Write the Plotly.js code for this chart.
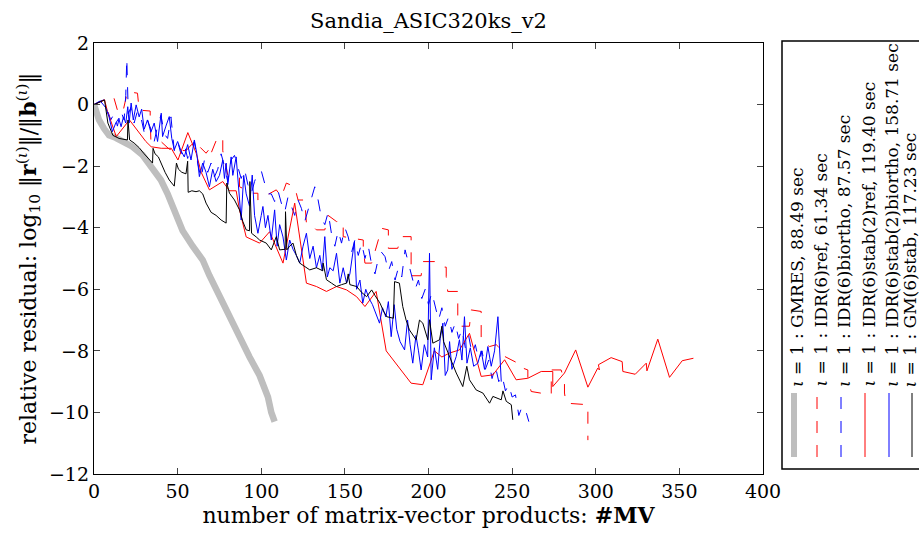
<!DOCTYPE html>
<html>
<head>
<meta charset="utf-8">
<script src="https://cdn.plot.ly/plotly-3.0.1.min.js"></script>
<style>html,body{margin:0;padding:0;background:#fff;}#chart{width:919px;height:537px;}</style>
</head>
<body>
<div id="chart"></div>
<script>
// ---- data ----
const gmresX = [0,3,6,9,13,17,23,29,34,40,44,48,53,59,65,69,73,77,81,87,93,99,104,106,108];
const gmresY = [0,-0.5,-0.78,-1.0,-1.08,-1.2,-1.37,-1.64,-2.0,-2.45,-2.9,-3.5,-4.1,-4.6,-5.05,-5.55,-6.0,-6.45,-6.9,-7.6,-8.2,-8.8,-9.5,-10.0,-10.3];

const idrRefX = [0,6,10,12,14,17,20,26,27,33.6,33.6,34,39,42,45,55,60,67,70,70,74,77,77,80,84,87,87,95,98,98,105,109,112,115,120,122,126,127,129,133,138,140,145,149,149,154,161,161,162,166,172,176,176,181.6,183.7,189.6,189.6,195.6,196.6,203.6,206.6,210.6,210.6,211.5,217.5,217.5,219.5,224.5,225.5,231.5,231.5,236.5,240.5,245.5,245.5,253.4,253.4,259.4,259.4,261.4,266.4,273.4,273.4,279.3,281.3,281.3,282.3,288.3,295.3,295.3];
const idrRefY = [0,0.15,0.05,0.2,-0.18,-0.3,0.42,0.37,-0.18,-0.21,-0.5,-1.15,-1.15,-1.3,-1.45,-1.5,-1.2,-1.58,-1.37,-1.58,-1.04,-1.1,-1.5,-2.29,-2.35,-2.35,-2.67,-2.88,-2.88,-3.1,-2.88,-2.77,-3.0,-2.55,-2.67,-3.1,-3.1,-3.85,-3.85,-4.07,-4.07,-3.6,-3.8,-3.8,-4.29,-4.34,-4.4,-4.7,-5.15,-5.15,-4.02,-4.07,-4.67,-4.67,-4.29,-4.29,-5.56,-5.56,-5.1,-5.1,-5.28,-5.28,-5.59,-6.07,-6.07,-6.94,-7.2,-7.2,-6.67,-6.72,-7.64,-7.86,-7.8,-8.07,-8.18,-8.4,-8.5,-8.62,-8.94,-9.32,-9.37,-9.43,-8.62,-8.62,-9.0,-9.37,-9.7,-9.72,-9.75,-10.9];

const idrBiX = [0,3,6,8,10,12,14,16,18,19,19.6,20.5,22,24,26,28,30,32,34,36,38,40,42,44,46,48,50,52,54,56,58,60,62,64,66,68,70,72,74,76,78,80,82,84,86,88,90,92,94,96,98,100,102,104,106,108,110,112,114,116,118,120,122,124,126,128,130,132,134,136,138,140,142,144,146,148,150,152,154,156,158,160,162,164,166,168,170,172,174,176,178,180,182,184,186,188,190,192,194,196,198,200,202,204,206,208,210,212,214,216,218,220,222,224,226,228,230,232,234,236,238,240,242,244,246,248,250,252,254,256,258,260];
const idrBiY = [0,0.1,0.15,-0.2,-0.5,-0.3,-0.7,-0.2,-0.5,0.3,1.5,-0.3,-0.1,-0.6,-0.2,-0.4,-0.9,-0.5,-0.8,-1.2,-0.7,-0.35,-0.95,-1.1,-0.4,-1.5,-1.2,-1.6,-1.3,-1.75,-1.4,-1.2,-1.9,-2.4,-1.8,-2.2,-1.9,-2.35,-2.1,-1.6,-2.0,-2.5,-1.8,-1.65,-2.0,-2.4,-2.1,-2.6,-2.9,-2.5,-2.2,-2.15,-2.55,-2.9,-2.9,-3.15,-2.8,-3.2,-3.5,-3.0,-3.3,-3.6,-3.1,-3.37,-3.8,-3.4,-3.0,-2.67,-3.1,-3.7,-3.9,-3.5,-4.2,-4.6,-4.1,-4.5,-4.0,-4.3,-4.8,-4.4,-4.9,-4.5,-5.0,-4.6,-5.2,-5.5,-5.0,-4.8,-4.94,-5.42,-5.1,-5.7,-5.3,-5.6,-4.72,-5.15,-5.6,-6.0,-5.7,-6.3,-6.0,-6.5,-6.1,-6.6,-7.0,-6.6,-7.2,-6.9,-7.4,-7.1,-7.6,-7.3,-7.9,-7.5,-8.1,-7.8,-8.3,-8.0,-8.6,-8.3,-8.9,-8.5,-9.0,-8.8,-9.3,-9.1,-9.5,-9.43,-10.1,-9.8,-9.92,-10.3];

const stabRefX = [0,6.3,8.1,13.3,21.2,24,28,31,34.2,37.2,40.2,46.2,50.2,56.1,61.1,64.1,69,77,81,85,87,91,99,105,113,120,127,133,139,145,151,157,162,168.7,174.7,189.6,196.6,203.5,208,212.6,218.5,224.5,231.5,238.5,245.5,252.4,259.4,267.4,274.3,274.3,281.3,288,295.3,301.2,302.2,301.6,309.2,315.8,316.2,323.6,330.2,330.6,337.1,344.1,351.7,358.4];
const stabRefY = [0,0.15,-0.23,-1.04,-0.5,-0.7,-1.0,-1.2,-1.37,-1.4,-1.42,-1.42,-1.8,-0.91,-1.58,-2.2,-2.77,-2.5,-2.8,-2.8,-3.42,-4.3,-4.5,-4.13,-5.15,-3.2,-5.8,-5.91,-6.07,-5.91,-6.02,-6.24,-6.56,-6.07,-8.0,-9.05,-9.1,-8.0,-8.2,-8.07,-7.97,-7.43,-8.83,-8.78,-8.29,-8.94,-8.89,-8.67,-8.67,-9.16,-8.72,-7.97,-9.18,-8.56,-8.62,-8.45,-8.22,-8.35,-8.67,-8.76,-8.4,-8.65,-7.62,-8.86,-8.32,-8.24];

const stabBiX = [0,4,7,9,11,13,14.8,16.2,17.6,19,20.2,21,22.2,23.5,25.2,27,28.5,30,32,34,36,38,40.2,41,43,45,46.5,48,50,52,54,56,58,60,61.5,63,65,67,69,71,73,75,77,78,79,80,82,83,85,86.5,88,89.5,91,93,94.6,96,98,100,101,102.5,104,106,108,109.5,111,113,115,117,119,121,123,125,127,129,131,133,135,136.5,138,139.5,141,143,145,147,149,151,153,155.7,157,159,160.7,162.5,164.5,166.5,168.5,170.7,172.5,174.5,176,177.7,179.5,181,183,185.7,187.5,189,190.6,192.5,194,195.6,197.5,199.5,200.6,201.6,203.5,205.5,207,208.6,210,211.5,212.6,214,216.6,218.5,220,221.5,223,225,227,229.5,231.5,233.5,235.5,237.5,239.5,241.5,243.5];
const stabBiY = [0,0.1,-0.1,-0.4,-0.88,-0.6,-0.45,-0.72,-0.4,-0.6,-0.07,-0.6,0.05,-0.5,-0.01,-0.4,-0.15,-0.8,-0.5,-0.9,-0.6,-1.2,-0.28,-1.04,-0.7,-0.39,-1.1,-1.47,-1.2,-1.5,-1.7,-1.3,-1.8,-1.15,-1.6,-2.34,-1.9,-2.2,-2.67,-2.1,-2.5,-2.3,-1.8,-2.4,-1.9,-2.6,-1.7,-2.3,-1.7,-2.6,-3.75,-2.3,-2.9,-3.3,-2.29,-3.6,-4.18,-3.6,-3.31,-4.0,-3.6,-4.4,-3.42,-4.6,-3.9,-4.3,-5.05,-4.4,-4.7,-4.9,-5.15,-4.6,-4.18,-5.0,-4.6,-5.3,-4.9,-5.4,-4.29,-5.6,-5.3,-5.4,-4.83,-5.8,-5.3,-5.8,-5.5,-4.45,-6.0,-5.7,-6.45,-6.0,-6.3,-6.5,-6.8,-7.1,-6.6,-6.9,-6.4,-7.54,-6.5,-7.3,-7.7,-7.97,-7.0,-7.8,-8.4,-7.5,-8.0,-8.62,-7.8,-8.2,-4.83,-8.94,-7.9,-8.6,-7.6,-7.1,-8.8,-8.62,-7.7,-8.6,-8.18,-7.64,-8.3,-6.89,-8.4,-7.9,-8.5,-8.4,-8.0,-8.6,-7.86,-8.5,-8.0,-6.89,-9.0];

const gmStabX = [0,3,6.3,8.3,11.3,15,20,20.3,21.3,24,27,30,33,35,35.3,36.5,38.5,40.5,42.5,45,48,49.3,50.5,52.5,55,56,56.3,58.5,61,63,65,67,70,73,76,79,79.4,81,84,87,89,91,93,93.2,94.2,97,99,103,106,109,111,114.3,114.5,115.3,117,119,121,123,126,129,133,136.8,137,139,142,145,148,151,152,153,157,160,163,166,168,171,173,175,179,179.7,182.6,184.6,186.6,188.6,192.6,194.6,196.6,199.6,200.6,202.6,206.6,208,209,212.6,216.6,220.5,222.9,224.5,228.5,232.5,236.5,238.5,243.5,244.5,246.5,249.5,250.4];
const gmStabY = [0,0.07,0.15,-0.6,-1.0,-1.1,-1.15,-0.5,-1.15,-1.25,-1.4,-1.6,-1.8,-1.9,-1.42,-1.6,-1.7,-1.95,-2.2,-2.45,-2.65,-1.9,-2.1,-2.2,-2.25,-1.84,-2.85,-2.8,-2.83,-2.8,-2.9,-3.2,-3.5,-3.6,-3.75,-3.85,-2.55,-2.88,-3.1,-3.42,-3.8,-4.07,-4.1,-2.5,-4.18,-4.3,-4.4,-4.5,-4.72,-4.29,-4.72,-4.7,-3.48,-4.72,-4.6,-4.5,-4.9,-5.15,-5.25,-5.37,-5.3,-5.4,-5.15,-5.69,-5.8,-5.91,-5.85,-5.8,-5.5,-5.85,-5.91,-6.1,-6.24,-6.02,-6.2,-6.45,-6.7,-6.89,-6.94,-5.75,-5.8,-6.56,-7.0,-7.32,-7.64,-7.0,-7.1,-7.64,-6.99,-7.75,-7.64,-7.2,-7.7,-8.18,-8.72,-9.16,-8.5,-8.94,-9.27,-9.37,-9.7,-9.48,-9.59,-9.3,-9.64,-9.75,-10.24];

const legendLabels = [
  '<i>ι</i> = 1 : GMRES, 88.49 sec',
  '<i>ι</i> = 1 : IDR(6)ref, 61.34 sec',
  '<i>ι</i> = 1 : IDR(6)biortho, 87.57 sec',
  '<i>ι</i> = 1 : IDR(6)stab(2)ref, 119.40 sec',
  '<i>ι</i> = 1 : IDR(6)stab(2)biortho, 158.71 sec',
  '<i>ι</i> = 1 : GM(6)stab, 117.23 sec'
];
const xTicks = [0,50,100,150,200,250,300,350,400];
const yTicks = [-12,-10,-8,-6,-4,-2,0,2];

// ---- styles ----
const FONT = 'DejaVu Serif, Liberation Serif, serif';
const styles = [
  {color:'#bebebe', width:6.5, dash:'solid'},
  {color:'#ff0000', width:1, dash:'12px,12px'},
  {color:'#0000ff', width:1, dash:'12px,12px'},
  {color:'#ff0000', width:1, dash:'solid'},
  {color:'#0000ff', width:1, dash:'solid'},
  {color:'#000000', width:1, dash:'solid'}
];
const seriesX = [gmresX, idrRefX, idrBiX, stabRefX, stabBiX, gmStabX];
const seriesY = [gmresY, idrRefY, idrBiY, stabRefY, stabBiY, gmStabY];

const traces = seriesX.map((xs, i) => ({
  x: xs, y: seriesY[i], type:'scatter', mode:'lines',
  line: {color: styles[i].color, width: styles[i].width, dash: styles[i].dash},
  showlegend:false, hoverinfo:'skip'
}));

// plot area geometry in pixels
const W = 919, H = 537, L = 94, R = 156, T = 43, B = 63;
const pw = W - L - R, ph = H - T - B;
const px2x = p => (p - L) / pw;
const py2y = p => (H - B - p) / ph;

const legendX = [794, 817, 841, 865, 889, 912];
const textX = [797, 820, 844, 868, 892, 909];
const shapes = [{
  type:'rect', xref:'paper', yref:'paper',
  x0: px2x(782), x1: px2x(930), y0: py2y(469), y1: py2y(41),
  line:{color:'#000', width:1.5}, fillcolor:'rgba(0,0,0,0)'
}];
const annotations = [];
legendX.forEach((lx, i) => {
  shapes.push({type:'line', xref:'paper', yref:'paper',
    x0: px2x(lx), x1: px2x(lx), y0: py2y(457), y1: py2y(393),
    line:{color: styles[i].color, width: styles[i].width === 6.5 ? 6 : 1, dash: styles[i].dash === 'solid' ? 'solid' : '12px,12px'}});
  annotations.push({xref:'paper', yref:'paper', x: px2x(textX[i]), y: py2y(389),
    xanchor:'center', yanchor:'bottom', textangle:-90, showarrow:false,
    text: legendLabels[i], font:{family:FONT, size:17, color:'#000'}});
});

const layout = {
  width: W, height: H,
  margin: {l:L, r:R, t:T, b:B, pad:0},
  paper_bgcolor:'#fff', plot_bgcolor:'#fff',
  font: {family: FONT, size: 19, color:'#000'},
  title: {text:'Sandia_ASIC320ks_v2', x:(L + pw/2)/W, xanchor:'center', y:1-21/H, yanchor:'middle', font:{family:FONT, size:21}},
  xaxis: {range:[0,400], tickvals:xTicks, ticktext:xTicks.map(String), ticks:'inside', ticklen:6, tickwidth:1,
    mirror:'ticks', showline:true, linecolor:'#000', linewidth:1.2, showgrid:false, zeroline:false,
    tickfont:{family:FONT, size:19},
    title:{text:'number of matrix-vector products: <b>#MV</b>', font:{family:FONT, size:22}, standoff:3}},
  yaxis: {range:[-12,2], tickvals:yTicks, ticks:'inside', ticklen:6, tickwidth:1,
    mirror:'ticks', showline:true, linecolor:'#000', linewidth:1.2, showgrid:false, zeroline:false,
    tickfont:{family:FONT, size:19},
    title:{text:'relative residual: log<sub>10</sub> ‖<b>r</b><sup>(<i>ι</i>)</sup>‖/‖<b>b</b><sup>(<i>ι</i>)</sup>‖', font:{family:FONT, size:22}, standoff:6}},
  shapes: shapes,
  annotations: annotations
};

Plotly.newPlot('chart', traces, layout, {staticPlot:true, displayModeBar:false});
</script>
</body>
</html>
